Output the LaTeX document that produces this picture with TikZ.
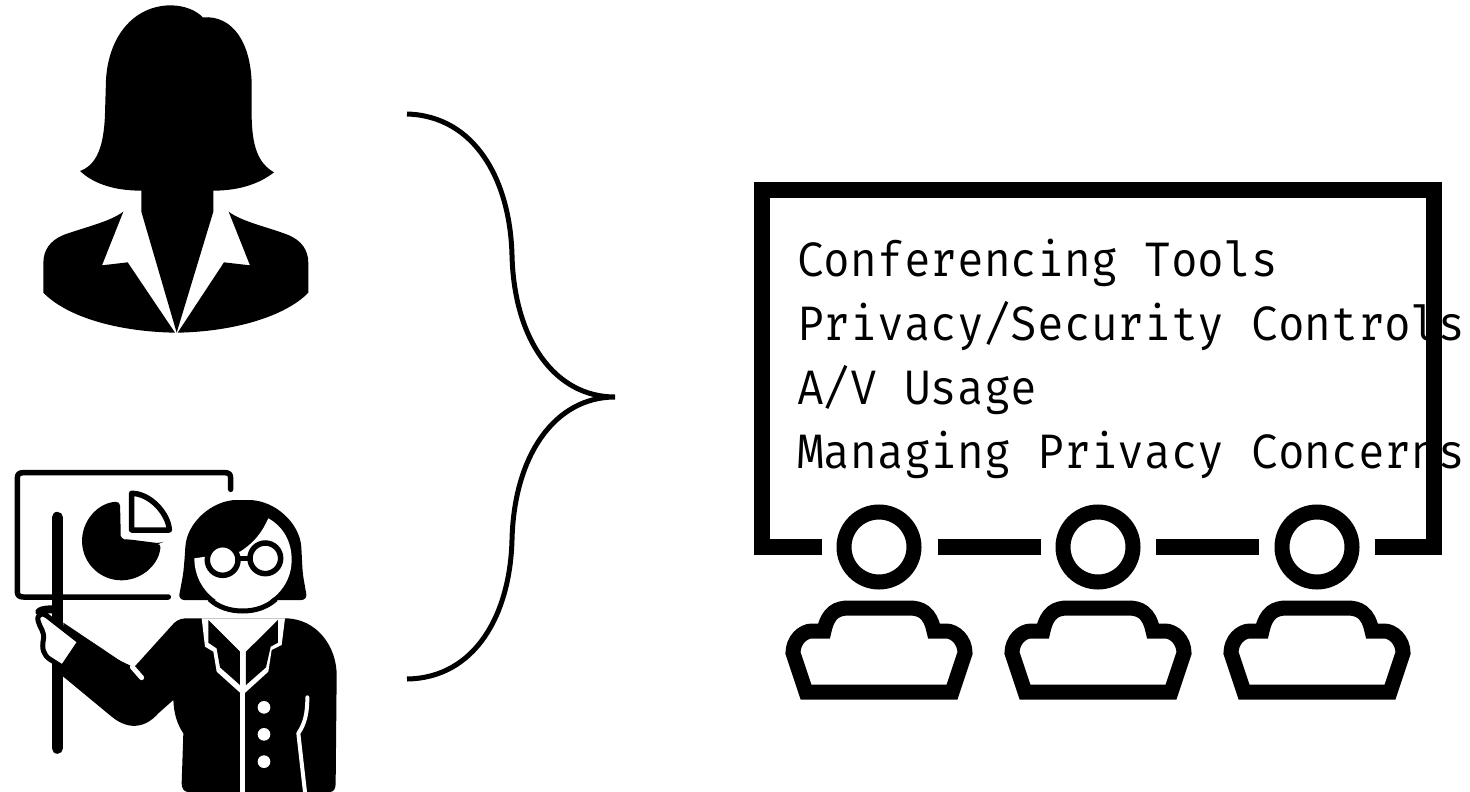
\documentclass[tikz,border=0pt]{standalone}
\usepackage{fontspec}
\newfontfamily\labelfont[FakeStretch=0.92]{Fira Mono}
\tikzset{
  pic frame/.style={line width=15.5pt,black,line cap=butt,miter limit=10},
  seat/.style={line width=15pt,black,line join=miter,miter limit=10},
  head/.style={line width=15pt,black},
  label line/.style={anchor=base west,inner sep=0pt,font=\labelfont\fontsize{48.4}{64}\selectfont,text=black},
  brace line/.style={line width=5pt,black},
  thin white/.style={white,line width=4.5pt,line cap=round,line join=round},
  board/.style={black,line width=5.5pt,line cap=round,line join=round}
}
\begin{document}
\begin{tikzpicture}[x=1pt,y=-1pt]
\path[use as bounding box,fill=white] (0,0) rectangle (1470,792);

% --- businesswoman icon (coordinates are 3x pixels)
\begin{scope}[scale=1/3]
\fill[black] (240,513) .. controls (290,495) and (312,440) .. (315,340)
  -- (318,240) .. controls (325,110) and (400,18) .. (510,16)
  .. controls (555,16) and (590,32) .. (608,52)
  .. controls (700,45) and (752,130) .. (755,250)
  -- (755,340) .. controls (755,440) and (775,490) .. (822,517)
  .. controls (780,550) and (720,572) .. (640,572)
  -- (640,635) -- (530,998) -- (424,635) -- (424,572)
  .. controls (350,572) and (285,555) .. (240,513) -- cycle;
\fill[black] (370,635) .. controls (330,665) and (260,680) .. (190,705)
  .. controls (150,722) and (130,750) .. (130,790)
  -- (130,878) .. controls (200,950) and (350,995) .. (525,998)
  -- (383,787) -- (306,796) -- cycle;
\fill[black] (686,635) .. controls (725,665) and (800,680) .. (865,705)
  .. controls (905,722) and (925,750) .. (925,790)
  -- (925,878) .. controls (855,950) and (700,995) .. (533,998)
  -- (672,787) -- (750,796) -- cycle;
\end{scope}

% --- teacher icon (coordinates are 3x pixels, from y=450)
\begin{scope}[shift={(0,450)},scale=1/3]
\draw[board] (505,441) -- (70,441) .. controls (57,441) and (52,435) .. (52,425)
  -- (52,85) .. controls (52,73) and (57,68) .. (70,68)
  -- (675,68) .. controls (687,68) and (692,73) .. (692,85) -- (692,118);
\draw[black,line width=11pt,line cap=round] (172,202) -- (172,895);
% pie
\fill[black,rounded corners=4pt] (360,155) arc[start angle=-92,end angle=-357,radius=118]
  -- (480,280) -- (385,268) .. controls (368,268) and (362,260) .. (362,245) -- cycle;
\draw[black,line width=5.5pt,line join=round,fill=white] (395,130) -- (395,240) -- (508,240)
  .. controls (505,190) and (450,130) .. (395,130) -- cycle;
% hair
\fill[black,rounded corners=6pt] (535,450) -- (550,370) -- (555,310)
  .. controls (560,215) and (640,150) .. (728,150)
  .. controls (825,150) and (900,220) .. (905,310)
  -- (908,370) -- (922,450) -- cycle;
% face
\fill[white] (583,325) -- (720,305) .. controls (760,280) and (785,250) .. (805,205)
  .. controls (850,230) and (875,275) .. (875,330)
  .. controls (875,410) and (810,475) .. (728,475)
  .. controls (650,475) and (583,410) .. (583,325) -- cycle;
\draw[black,line width=5pt] (628,447) .. controls (655,472) and (690,483) .. (728,483)
  .. controls (766,483) and (800,472) .. (828,447);
% glasses
\draw[black,line width=5.5pt,fill=white] (668,330) circle[radius=46];
\draw[black,line width=5.5pt,fill=white] (796,325) circle[radius=46];
\draw[black,line width=5pt] (712,325) -- (752,325);
% body and arm
\fill[black] (605,505) -- (555,505) .. controls (535,507) and (525,515) .. (515,527)
  -- (402,652) -- (240,575) -- (135,495) -- (190,680)
  -- (335,800) .. controls (390,845) and (440,830) .. (475,790)
  -- (520,750) .. controls (522,790) and (530,820) .. (550,850)
  -- (545,1000) .. controls (545,1015) and (552,1026) .. (565,1026)
  -- (990,1026) .. controls (1002,1026) and (1007,1015) .. (1007,1000)
  -- (1010,680) .. controls (1012,590) and (950,505) .. (855,505) -- cycle;
\fill[black] (190,518) -- (402,660) -- (402,720) -- (240,700) -- (190,680) -- cycle;
\draw[thin white,line width=5pt] (397,651) -- (425,683);
% hand
\draw[black,line width=5pt,line join=round,fill=white] (240,575) -- (140,497)
  .. controls (125,485) and (108,495) .. (115,515)
  .. controls (120,535) and (135,545) .. (130,570)
  .. controls (125,595) and (130,615) .. (150,628)
  -- (188,652) -- cycle;
\draw[black,line width=8pt,line cap=round] (118,485) .. controls (130,478) and (145,478) .. (165,478);
% shirt
\fill[white] (605,505) -- (615,590) -- (640,605) -- (650,665) -- (728,735)
  -- (805,665) -- (815,600) -- (845,585) -- (855,505) -- cycle;
\fill[black] (625,510) -- (720,605) -- (720,705) -- (660,652) -- (650,595) -- (625,578) -- cycle;
\fill[black] (834,510) -- (738,605) -- (738,705) -- (798,652) -- (812,590) -- (834,578) -- cycle;
\draw[white,line width=5pt] (728,730) -- (728,1026);
\fill[white] (792,772) circle[radius=19];
\fill[white] (792,853) circle[radius=19];
\fill[white] (792,935) circle[radius=19];
\draw[thin white,line width=4pt] (922,742) .. controls (922,790) and (915,820) .. (895,850)
  -- (915,1026);
\end{scope}

% --- brace
\draw[brace line] (407,114) .. controls (475,116) and (510,180) .. (512,255)
  .. controls (514,340) and (555,397) .. (615,397)
  .. controls (555,397) and (514,455) .. (512,540)
  .. controls (510,615) and (475,678) .. (407,679);

% --- room frame
\draw[pic frame] (822,547) -- (762,547) -- (762,190) -- (1434,190) -- (1434,547) -- (1375,547);
\draw[pic frame] (938,547) -- (1041,547);
\draw[pic frame] (1156,547) -- (1259,547);

% --- audience
\foreach \cx in {879,1098,1317}{
  \begin{scope}[shift={(\cx,0)}]
  \draw[head] (0,547) circle[radius=35];
  \draw[seat] (-73,692) -- (-86,653) .. controls (-86,640) and (-76,631) .. (-67,631)
    -- (-55,631) .. controls (-51,612) and (-42,608) .. (-30,608)
    -- (30,608) .. controls (42,608) and (51,612) .. (55,631)
    -- (67,631) .. controls (76,631) and (86,640) .. (86,653) -- (73,692) -- cycle;
  \end{scope}
}

% --- labels
\node[label line] (l1) at (797,276) {Conferencing Tools};
\node[label line] (l2) at (797,340) {Privacy/Security Controls};
\node[label line] (l3) at (797,404) {A/V Usage};
\node[label line] (l4) at (797,468) {Managing Privacy Concerns};
\end{tikzpicture}
\end{document}
